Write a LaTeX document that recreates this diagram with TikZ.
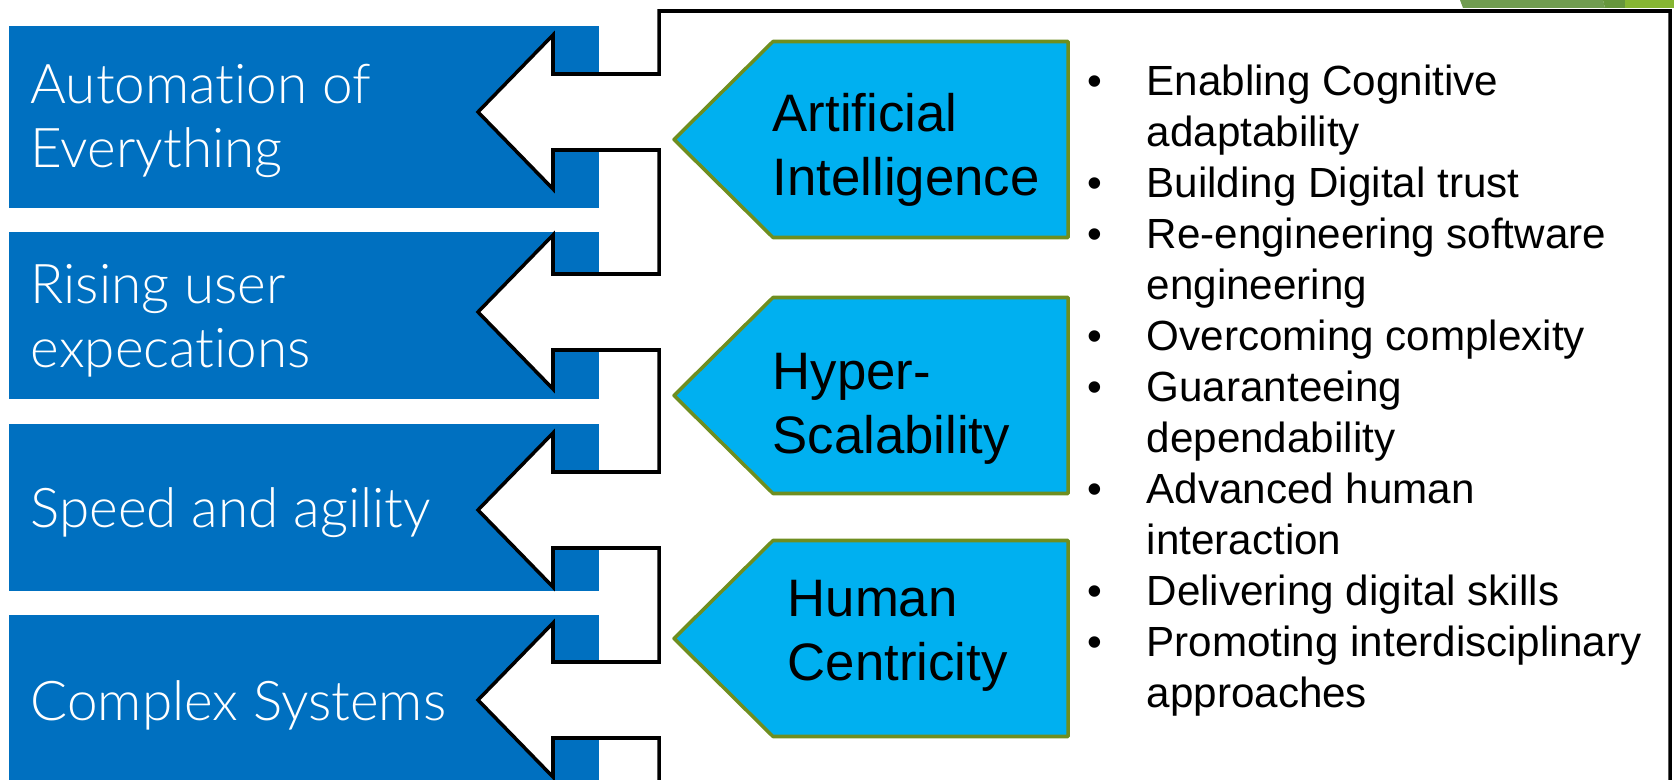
\documentclass[tikz,border=0pt]{standalone}
\usepackage{fontspec}
\setmainfont{Liberation Sans}
\IfFontExistsTF{Lato Light}{\newfontfamily\thinsans{Lato Light}[Ligatures=NoCommon]}{\newfontfamily\thinsans{Lato}[Ligatures=NoCommon]}
\usepackage{tikz}
\usepackage{array}
\definecolor{boxblue}{RGB}{0,112,192}
\definecolor{tagblue}{RGB}{0,176,240}
\definecolor{tagedge}{RGB}{111,142,32}
\definecolor{facetgreen}{RGB}{112,156,80}
\definecolor{facetdark}{RGB}{102,150,60}
\definecolor{facetlight}{RGB}{134,182,50}
\def\arrowcut#1{-- (6.59,#1+0.38) -- (5.53,#1+0.38) -- (5.53,#1+0.77) -- (4.78,#1) -- (5.53,#1-0.77) -- (5.53,#1-0.38) -- (6.59,#1-0.38)}
\tikzset{
	trendtext/.style={anchor=base west, inner sep=0, align=left, text=white, font=\fontsize{15.6}{18.4}\selectfont\thinsans},
	tagtext/.style={anchor=base west, inner sep=0, align=left, font=\fontsize{15}{18.2}\selectfont},
	tag/.style={line width=1pt, draw=tagedge, fill=tagblue, line join=round}
}

\begin{document}
\begin{tikzpicture}
			%%%%% START %%%%%
			\useasboundingbox (0,0) rectangle (16.74,7.79);
			\clip (0,0) rectangle (16.74,7.79);
			
			\fill[boxblue] (0.09,7.53) rectangle (5.99,5.71);
			\fill[boxblue] (0.09,5.47) rectangle (5.99,3.80);
			\fill[boxblue] (0.09,3.55) rectangle (5.99,1.88);
			\fill[boxblue] (0.09,1.64) rectangle (5.99,-0.1);
			
			% base is the last line of the node
			\node[trendtext] (automation) at (0.30,6.11) {Automation of\\Everything};
			\node[trendtext] (rising) at (0.30,4.11) {Rising user\\expecations};
			\node[trendtext] (speed) at (0.30,2.515) {Speed and agility};
			\node[trendtext] (complex) at (0.30,0.59) {Complex Systems};
			
			% frame with the four arrows cut into its left side
			\draw[line width=1pt, fill=white] (16.70,-0.1) -- (16.70,7.68) -- (6.59,7.68)
				\arrowcut{6.67} \arrowcut{4.67} \arrowcut{2.69} \arrowcut{0.79} -- (6.59,-0.1);
			
			\fill[facetgreen] (14.60,7.79) -- (16.03,7.79) -- (16.05,7.71) -- (14.63,7.71) -- cycle;
			\fill[facetdark] (16.03,7.79) -- (16.25,7.79) -- (16.25,7.71) -- (16.05,7.71) -- cycle;
			\fill[facetlight] (16.25,7.79) -- (16.74,7.79) -- (16.74,7.71) -- (16.25,7.71) -- cycle;
			
			\draw[tag] (6.74,6.395) -- (7.73,7.375) -- (10.68,7.375) -- (10.68,5.415) -- (7.73,5.415) -- cycle;
			\draw[tag] (6.74,3.835) -- (7.73,4.815) -- (10.68,4.815) -- (10.68,2.855) -- (7.73,2.855) -- cycle;
			\draw[tag] (6.74,1.405) -- (7.73,2.385) -- (10.68,2.385) -- (10.68,0.425) -- (7.73,0.425) -- cycle;
			
			\node[tagtext] (ai) at (7.72,5.833) {Artificial\\Intelligence};
			\node[tagtext] (hyper) at (7.72,3.26) {Hyper-\\Scalability};
			\node[tagtext] (human) at (7.87,0.99) {Human\\Centricity};
			
			\node[anchor=base west, inner sep=0, font=\fontsize{12}{14.5}\selectfont] (items) at (10.87,6.835) {%
				\begin{tabular}[t]{@{}p{0.59cm}@{}l@{}}
					\textbullet & Enabling Cognitive\\
					& adaptability\\
					\textbullet & Building Digital trust\\
					\textbullet & Re-engineering software\\
					& engineering\\
					\textbullet & Overcoming complexity\\
					\textbullet & Guaranteeing\\
					& dependability\\
					\textbullet & Advanced human\\
					& interaction\\
					\textbullet & Delivering digital skills\\
					\textbullet & Promoting interdisciplinary\\
					& approaches
				\end{tabular}};
			
			%%%%% END %%%%%
\end{tikzpicture}
\end{document}
